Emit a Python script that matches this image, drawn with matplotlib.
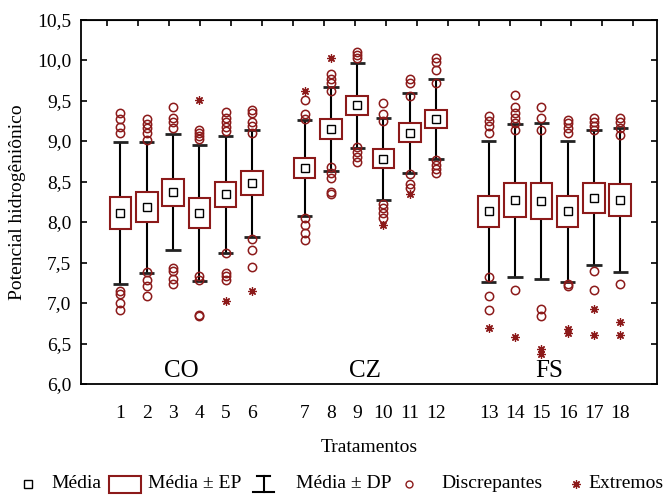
import matplotlib.pyplot as plt
from matplotlib.lines import Line2D
from matplotlib.patches import Rectangle

plt.rcParams['font.family'] = ['Liberation Serif', 'DejaVu Serif']

VERMELHO = '#8c1a1a'

grupos = ['CO', 'CZ', 'FS']
tratamentos = [str(i) for i in range(1, 19)]
posicoes = [1, 2, 3, 4, 5, 6, 8, 9, 10, 11, 12, 13, 15, 16, 17, 18, 19, 20]

medias = [8.11, 8.18, 8.37, 8.11, 8.34, 8.48,
          8.67, 9.15, 9.44, 8.78, 9.10, 9.27,
          8.13, 8.27, 8.26, 8.13, 8.30, 8.27]
ep = [0.200, 0.185, 0.167, 0.185, 0.158, 0.148,
      0.124, 0.124, 0.117, 0.117, 0.117, 0.110,
      0.190, 0.210, 0.220, 0.190, 0.185, 0.196]
dp = [0.875, 0.810, 0.720, 0.835, 0.725, 0.660,
      0.590, 0.515, 0.525, 0.510, 0.490, 0.490,
      0.865, 0.945, 0.965, 0.870, 0.835, 0.890]

discrepantes = [
    [9.34, 9.27, 9.17, 9.10, 7.15, 7.11, 7.00, 6.91],
    [9.27, 9.21, 9.16, 9.10, 9.01, 7.38, 7.28, 7.21, 7.09],
    [9.42, 9.29, 9.23, 9.16, 7.43, 7.40, 7.30, 7.23],
    [9.14, 9.10, 9.06, 9.02, 7.33, 7.28, 6.85, 6.84],
    [9.36, 9.28, 9.23, 9.17, 9.12, 7.62, 7.37, 7.33, 7.28],
    [9.38, 9.35, 9.23, 9.19, 9.10, 7.79, 7.66, 7.45],
    [9.51, 9.33, 9.27, 8.05, 7.96, 7.87, 7.78],
    [9.83, 9.77, 9.71, 9.62, 8.68, 8.61, 8.54, 8.37, 8.34],
    [10.10, 10.06, 10.02, 8.92, 8.87, 8.80, 8.74],
    [9.47, 9.33, 9.25, 8.22, 8.17, 8.11, 8.05],
    [9.76, 9.72, 9.55, 8.59, 8.47, 8.42],
    [10.03, 9.97, 9.88, 9.71, 8.77, 8.71, 8.65, 8.60],
    [9.31, 9.25, 9.19, 9.10, 7.32, 7.09, 6.91],
    [9.57, 9.42, 9.35, 9.29, 9.22, 9.13, 7.16],
    [9.42, 9.29, 9.14, 6.93, 6.84],
    [9.26, 9.22, 9.16, 9.10, 7.24, 7.21],
    [9.28, 9.23, 9.18, 9.13, 7.40, 7.16],
    [9.29, 9.23, 9.16, 9.07, 7.23],
]

extremos = [
    [], [], [], [9.51], [7.03], [7.15],
    [9.62], [10.03], [], [7.96], [8.34], [],
    [6.69], [6.58], [6.43, 6.37], [6.68, 6.63], [6.93, 6.61], [6.77, 6.60],
]

fig = plt.figure(figsize=(6.63, 4.95), dpi=100)
ax = fig.add_axes([0.1222, 0.2242, 0.8688, 0.7364])

largura = 0.82
for x, m, e, d in zip(posicoes, medias, ep, dp):
    ax.vlines(x, m - d, m + d, color='black', lw=1.5, zorder=1)
    ax.hlines([m - d, m + d], x - 0.29, x + 0.29, color='#222222', lw=2.0, zorder=1)
    ax.add_patch(Rectangle((x - largura / 2, m - e), largura, 2 * e,
                           facecolor='white', edgecolor=VERMELHO, lw=1.5, zorder=2))

ax.plot(posicoes, medias, 's', ms=5.5, mfc='white', mec='black', mew=1.0, zorder=3)

for x, vals in zip(posicoes, discrepantes):
    ax.plot([x] * len(vals), vals, 'o', ms=6, mfc='none', mec=VERMELHO, mew=1.1, zorder=3)
for x, vals in zip(posicoes, extremos):
    if vals:
        ax.plot([x] * len(vals), vals, ls='none', marker=(8, 2, 0), ms=6,
                mec=VERMELHO, mew=0.9, zorder=3)

# group names sit just above the bottom spine
for i, g in enumerate(grupos):
    centro = sum(posicoes[i * 6:(i + 1) * 6]) / 6 - 0.2
    ax.text(centro, 6.02, g, ha='center', va='bottom', fontsize=18)

ax.set_xlim(-0.5, 21.4)
ax.set_ylim(6.0, 10.5)
ax.set_yticks([6.0 + 0.5 * i for i in range(10)])
ax.set_yticklabels([f'{6.0 + 0.5 * i:.1f}'.replace('.', ',') for i in range(10)], fontsize=14)
ax.set_xticks(posicoes)
ax.set_xticklabels(tratamentos, fontsize=14)
ax.tick_params(axis='x', length=0, pad=15)
ax.tick_params(axis='y', direction='in', length=4, width=1.2, right=True, pad=7)
for s in ax.spines.values():
    s.set_linewidth(1.3)

topo = ax.secondary_xaxis('top')
topo.set_xticks([0.5 + i * 20 / 17 for i in range(18)])
topo.tick_params(direction='in', length=4, width=1.2, labeltop=False)

ax.set_xlabel('Tratamentos', fontsize=14, labelpad=12)
fig.text(0.026, 0.592, 'Potencial hidrogêniônico', rotation=90,
         ha='center', va='center', fontsize=14)

# legend row along the bottom edge
yl = 1 - 484 / 495
W = 663
fig.add_artist(Line2D([27.5 / W], [yl], marker='s', ms=5.5, mfc='white', mec='black',
                      mew=1.0, transform=fig.transFigure))
fig.text(51 / W, yl, 'Média', va='center', fontsize=14)
fig.add_artist(Rectangle((109 / W, yl - 9 / 495), 32 / W, 17 / 495, facecolor='white',
                         edgecolor=VERMELHO, lw=1.5, transform=fig.transFigure))
fig.text(148 / W, yl, 'Média ± EP', va='center', fontsize=14)
fig.add_artist(Line2D([263.5 / W, 263.5 / W], [yl - 8 / 495, yl + 8 / 495], color='black',
                      lw=1.5, transform=fig.transFigure))
fig.add_artist(Line2D([257 / W, 270 / W], [yl + 8 / 495] * 2, color='black',
                      lw=1.5, transform=fig.transFigure))
fig.add_artist(Line2D([253 / W, 274 / W], [yl - 8 / 495] * 2, color='black',
                      lw=1.5, transform=fig.transFigure))
fig.text(296 / W, yl, 'Média ± DP', va='center', fontsize=14)
fig.add_artist(Line2D([409 / W], [yl], marker='o', ms=5, mfc='none', mec=VERMELHO,
                      mew=1.0, transform=fig.transFigure))
fig.text(441 / W, yl, 'Discrepantes', va='center', fontsize=14)
fig.add_artist(Line2D([576 / W], [yl], marker=(8, 2, 0), ms=6, mec=VERMELHO,
                      mew=0.9, transform=fig.transFigure))
fig.text(588 / W, yl, 'Extremos', va='center', fontsize=14)

fig.savefig('out.png', dpi=100)
